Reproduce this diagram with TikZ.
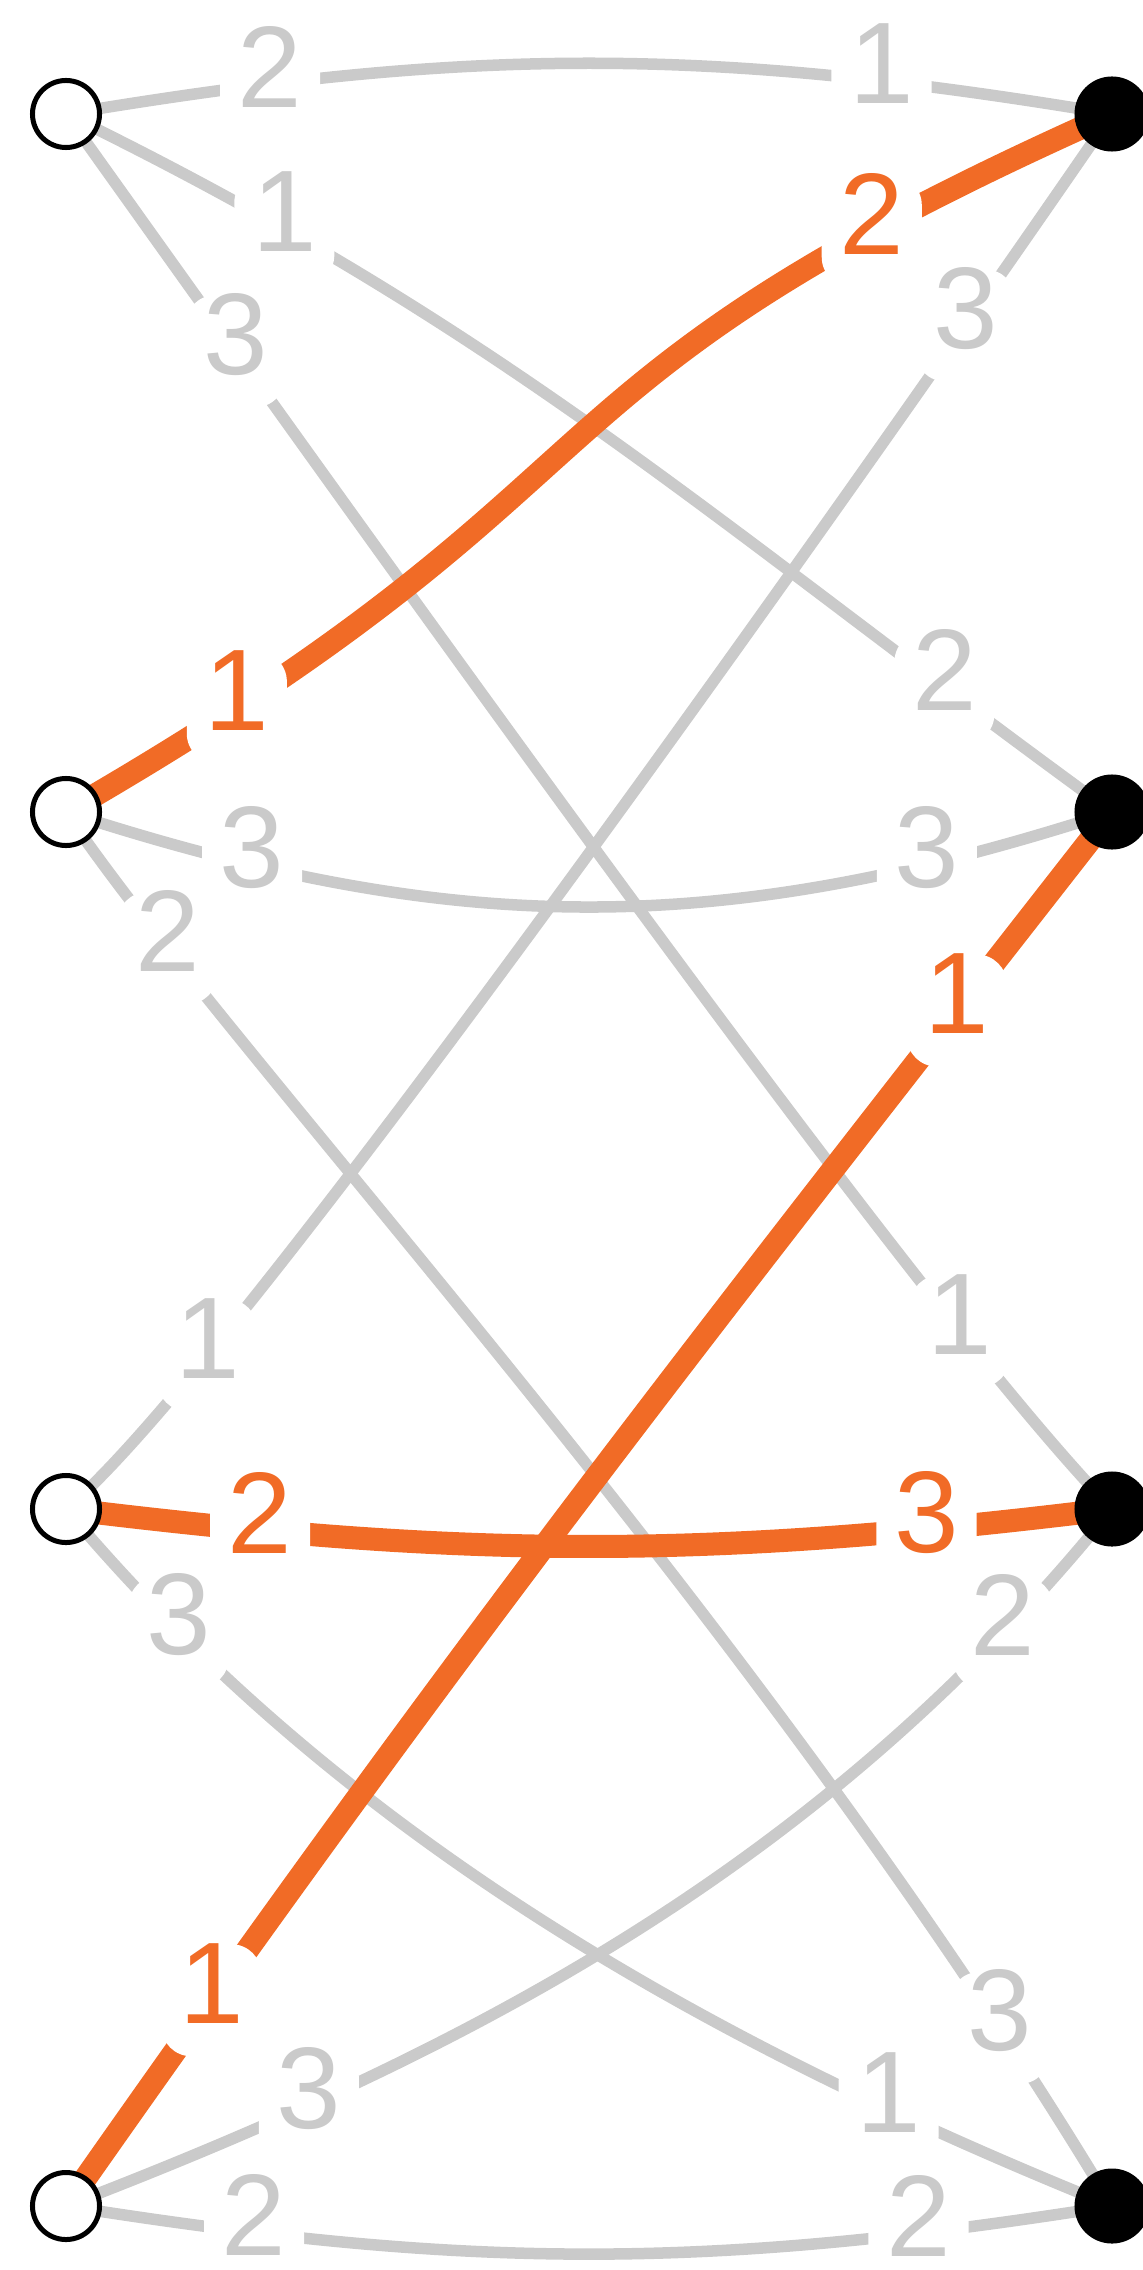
\documentclass[tikz,border=0pt]{standalone}
\usepackage{fontspec}
\setmainfont{Liberation Sans}
\usepackage{tikz}
\usetikzlibrary{backgrounds}
\definecolor{edgeGray}{RGB}{202, 202, 202}
\definecolor{matchOrange}{RGB}{241, 107, 38}

\begin{document}
\begin{tikzpicture}[x=0.01cm, y=0.01cm,
        freeNode/.style={circle, draw=black, line width=0.05cm, fill=white, minimum size=0.67cm, inner sep=0pt},
        takenNode/.style={circle, fill=black, minimum size=0.75cm, inner sep=0pt},
        grayEdge/.style={draw=edgeGray, line width=0.115cm},
        matchEdge/.style={draw=matchOrange, line width=0.23cm},
        rankTag/.style={fill=white, rounded corners=0.3cm, minimum width=1cm, minimum height=1.12cm, inner sep=0pt,
            text height=0.46cm, text depth=0pt, font=\fontsize{33}{39}\selectfont, text=edgeGray},
        matchTag/.style={rankTag, text=matchOrange}]
                \useasboundingbox (0,0) rectangle (1143,-2270);
                \foreach \i/\y in {1/-114, 2/-812, 3/-1509, 4/-2206} {
                    \node[freeNode] (L\i) at (66,\y) {};
                    \node[takenNode] (R\i) at (1112,\y) {};
                }
                \begin{scope}[on background layer]
                    \draw[grayEdge] (L1.center) .. controls +(9.5:410) and +(170.5:410) .. (R1.center) coordinate[pos=.18] (e1a) coordinate[pos=.795] (e1b);
                    \draw[grayEdge] (L1.center) .. controls +(-26:492) and +(144:492) .. (R2.center) coordinate[pos=.18] (e2a) coordinate[pos=.85] (e2b);
                    \draw[grayEdge] (L1.center) .. controls +(-54.5:683) and +(134:273) .. (R3.center) coordinate[pos=.14] (e3a) coordinate[pos=.79] (e3b);
                    \draw[grayEdge] (L2.center) .. controls +(-18:410) and +(198:410) .. (R2.center) coordinate[pos=.167] (e5a) coordinate[pos=.834] (e5b);
                    \draw[grayEdge] (L2.center) .. controls +(-56:300) and +(121:700) .. (R4.center) coordinate[pos=.155] (e6a) coordinate[pos=.9] (e6b);
                    \draw[grayEdge] (L3.center) .. controls +(39:200) and +(235.5:500) .. (R1.center) coordinate[pos=.2] (e7a) coordinate[pos=.85] (e7b);
                    \draw[grayEdge] (L3.center) .. controls +(-50:450) and +(158:400) .. (R4.center) coordinate[pos=.125] (e9a) coordinate[pos=.8] (e9b);
                    \draw[grayEdge] (L4.center) .. controls +(21:450) and +(231:450) .. (R3.center) coordinate[pos=.2] (e11a) coordinate[pos=.875] (e11b);
                    \draw[grayEdge] (L4.center) .. controls +(-9:410) and +(189:410) .. (R4.center) coordinate[pos=.165] (e12a) coordinate[pos=.83] (e12b);
                    \draw[matchEdge] (L2.center) .. controls +(30:689) and +(204:689) .. (R1.center) coordinate[pos=.11] (e4a) coordinate[pos=.845] (e4b);
                    \draw[matchEdge] (L3.center) .. controls +(-7:410) and +(187:410) .. (R3.center) coordinate[pos=.17] (e8a) coordinate[pos=.838] (e8b);
                    \draw[matchEdge] (L4.center) .. controls +(55:682) and +(232:682) .. (R2.center) coordinate[pos=.13] (e10a) coordinate[pos=.87] (e10b);
                    \node[rankTag] (t1a) at (e1a) {2};
                    \node[rankTag] (t1b) at (e1b) {1};
                    \node[rankTag] (t2a) at (e2a) {1};
                    \node[rankTag] (t2b) at (e2b) {2};
                    \node[rankTag] (t3a) at (e3a) {3};
                    \node[rankTag] (t3b) at (e3b) {1};
                    \node[matchTag] (t4a) at (e4a) {1};
                    \node[matchTag] (t4b) at (e4b) {2};
                    \node[rankTag] (t5a) at (e5a) {3};
                    \node[rankTag] (t5b) at (e5b) {3};
                    \node[rankTag] (t6a) at (e6a) {2};
                    \node[rankTag] (t6b) at (e6b) {3};
                    \node[rankTag] (t7a) at (e7a) {1};
                    \node[rankTag] (t7b) at (e7b) {3};
                    \node[matchTag] (t8a) at (e8a) {2};
                    \node[matchTag] (t8b) at (e8b) {3};
                    \node[rankTag] (t9a) at (e9a) {3};
                    \node[rankTag] (t9b) at (e9b) {1};
                    \node[matchTag] (t10a) at (e10a) {1};
                    \node[matchTag] (t10b) at (e10b) {1};
                    \node[rankTag] (t11a) at (e11a) {3};
                    \node[rankTag] (t11b) at (e11b) {2};
                    \node[rankTag] (t12a) at (e12a) {2};
                    \node[rankTag] (t12b) at (e12b) {2};
                \end{scope}
            \end{tikzpicture}
\end{document}
